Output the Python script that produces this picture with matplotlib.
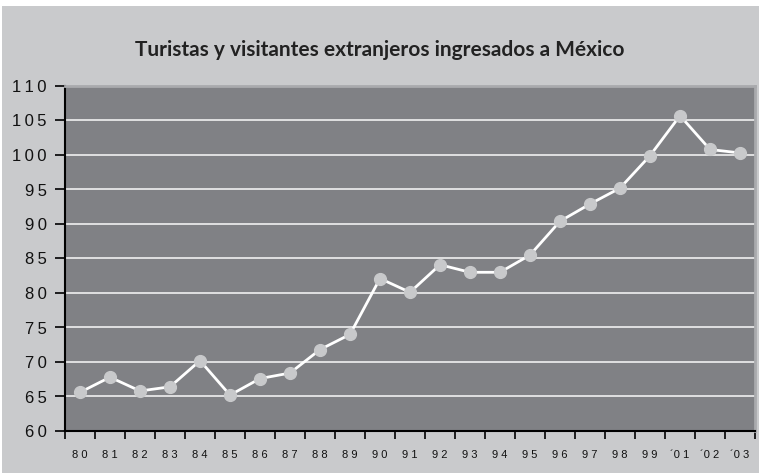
import matplotlib
matplotlib.use("Agg")
import matplotlib.pyplot as plt
from matplotlib.patches import Rectangle
import numpy as np

# data
years = ["80", "81", "82", "83", "84", "85", "86", "87", "88", "89", "90", "91",
         "92", "93", "94", "95", "96", "97", "98", "99", "´01", "´02", "´03"]
visitors = [65.6, 67.8, 65.8, 66.4, 70.2, 65.2, 67.6, 68.4, 71.8, 74.0, 82.1, 80.1,
            84.1, 83.0, 83.0, 85.5, 90.4, 92.9, 95.2, 99.9, 105.7, 100.8, 100.3]
yticks = [60, 65, 70, 75, 80, 85, 90, 95, 100, 105, 110]

bg = "#c9cacc"
plot_bg = "#808185"

fig = plt.figure(figsize=(7.59, 4.73), dpi=100, facecolor="white")
fig.patches.append(Rectangle((2 / 759, 0), 1, 1 - 6 / 473, transform=fig.transFigure,
                             facecolor=bg, edgecolor="none", zorder=-10))

ax = fig.add_axes([65 / 759, 1 - 431 / 473, 690 / 759, 345 / 473])
ax.set_facecolor(plot_bg)

x = np.arange(len(years))
ax.plot(x, visitors, color="white", lw=2, marker="o", ms=8.5,
        mfc="#c8c9cb", mec="#c8c9cb", zorder=3)

ax.set_xlim(-0.5, len(years) - 0.5)
ax.set_ylim(60, 110)
ax.set_yticks(yticks)
ax.set_yticklabels(["\u2009".join(str(v)) for v in yticks],
                   fontsize=12, family="Liberation Sans", color="#111111")
for v in yticks[1:-1]:
    ax.axhline(v, color="#e8e8e8", lw=1.3, zorder=1)

ax.set_xticks(x)
ax.set_xticklabels([" ".join(y) if not y.startswith("´") else "´" + " ".join(y[1:]) for y in years],
                   fontsize=8, family="Liberation Sans", color="#111111")
ax.set_xticks(np.arange(-0.5, len(years)), minor=True)
ax.tick_params(axis="x", which="major", length=0, pad=14)
ax.tick_params(axis="x", which="minor", length=6, width=1.2, direction="out")
ax.tick_params(axis="y", length=7, width=1.2, direction="out", pad=6)

for s in ["left", "bottom"]:
    ax.spines[s].set_color("black")
    ax.spines[s].set_linewidth(1.5)
for s in ["top", "right"]:
    ax.spines[s].set_color("#a9aaad")
    ax.spines[s].set_linewidth(2)

fig.text(0.5, 1 - 50 / 473, "Turistas y visitantes extranjeros ingresados a México",
         ha="center", va="center", fontsize=15, fontweight="bold",
         family="Lato", color="#222222")

fig.savefig("out.png", dpi=100, facecolor=fig.get_facecolor())
